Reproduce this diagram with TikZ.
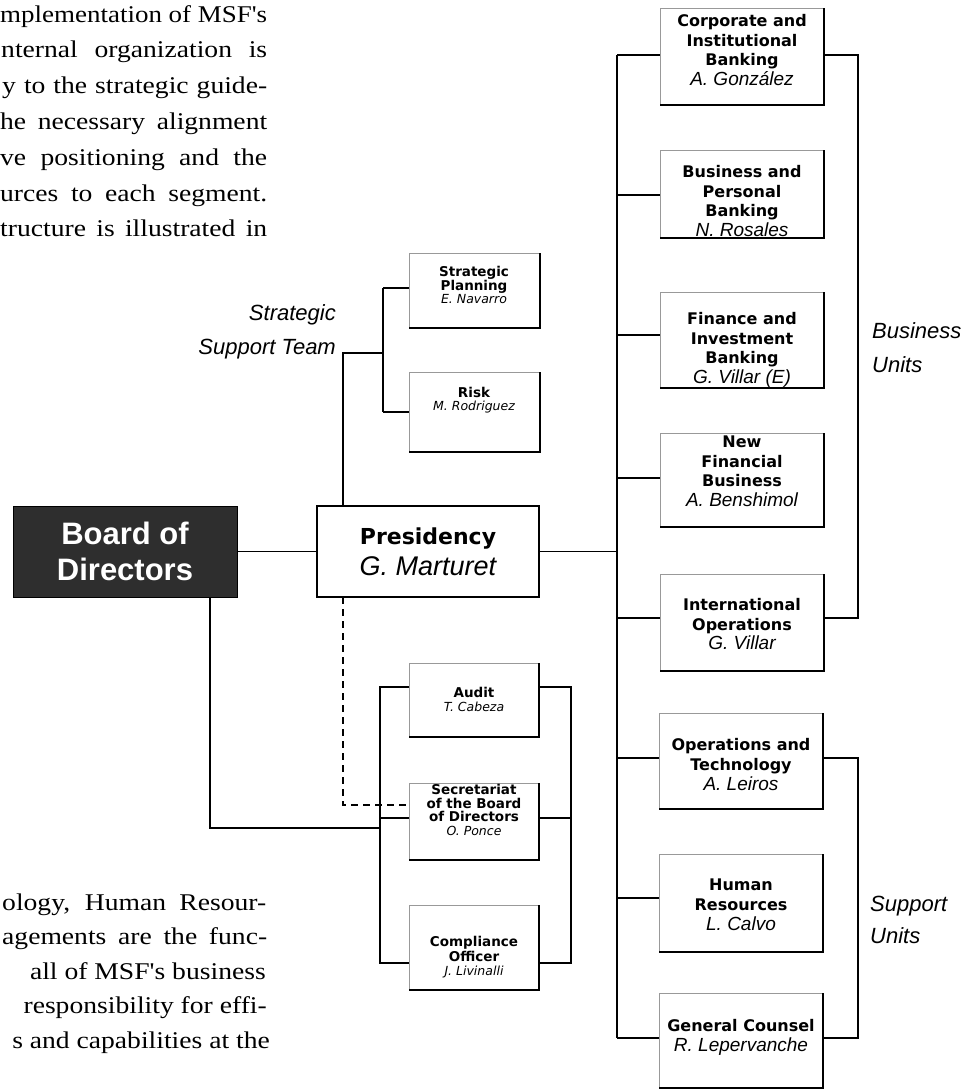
\documentclass[tikz,border=0pt]{standalone}
\usepackage{fontspec}
\usepackage{graphicx}
\usepackage{pdfrender}
\setmainfont{Liberation Serif}
\newfontfamily\bodyfont[FakeStretch=1.15]{Liberation Serif}
\newfontfamily\dv{DejaVu Sans}
\newfontfamily\lsans{Liberation Sans}
\newcommand\outl[2][0.5pt]{\textpdfrender{TextRenderingMode=FillStroke,LineWidth=#1,FillColor=white,StrokeColor=black}{#2}}
\newcommand\nmA[1]{{\lsans\mdseries\itshape\fontsize{19}{19.5}\selectfont #1}}
\newcommand\nmS[1]{\outl[0.7pt]{\lsans\mdseries\itshape\fontsize{19}{20}\selectfont #1}}
\newcommand\nms[1]{\outl[0.5pt]{\dv\mdseries\itshape\fontsize{12.5}{12}\selectfont #1}}
\newcommand\tts[1]{\outl[0.6pt]{#1}}
\newcommand\ttl[1]{\outl[0.8pt]{#1}}
\tikzset{
 conn/.style={line width=1.1pt},
 dashconn/.style={line width=1.1pt, dash pattern=on 7pt off 5pt},
 ubox/.style={draw=black!40, line width=0.5pt, fill=white, inner sep=0pt, outer sep=0pt},
 boxedge/.style={line width=1.2pt},
 txt/.style={align=center, inner sep=0pt},
 bu/.style={txt, font=\dv\bfseries\fontsize{16}{19.5}\selectfont},
 su/.style={txt, font=\dv\bfseries\fontsize{16}{20}\selectfont},
 sm/.style={txt, font=\dv\bfseries\fontsize{13.5}{13}\selectfont},
 lab/.style={inner sep=0pt, font=\lsans\itshape\fontsize{22}{26}\selectfont},
 body/.style={inner sep=0pt, anchor=base west, font=\bodyfont\fontsize{24}{24}\selectfont},
 bodyr/.style={inner sep=0pt, anchor=base east, font=\bodyfont\fontsize{24}{24}\selectfont},
}
\begin{document}
\begin{tikzpicture}[x=1pt,y=-1pt]
\useasboundingbox (0,0) rectangle (979,1090);

% ---- running text
\node[body] (t1) at (0,22) {\resizebox{267pt}{\height}{mplementation of MSF's}};
\node[body] (t2) at (1,57.8) {\makebox[266pt][s]{nternal organization is}};
\node[body] (t3) at (2,93.6) {\makebox[265pt][s]{y to the strategic guide-}};
\node[body] (t4) at (0,129.4) {\makebox[267pt][s]{he necessary alignment}};
\node[body] (t5) at (0,165.2) {\makebox[267pt][s]{ve positioning and the}};
\node[body] (t6) at (0,201) {\makebox[267pt][s]{urces to each segment.}};
\node[body] (t7) at (0,236.8) {\makebox[267pt][s]{tructure is illustrated in}};

\node[body] (b1) at (2,910) {\makebox[264pt][s]{ology, Human Resour-}};
\node[body] (b2) at (2,944.6) {\makebox[265pt][s]{agements are the func-}};
\node[bodyr] (b3) at (266,979.2) {all of MSF's business};
\node[bodyr] (b4) at (267,1013.8) {responsibility for effi-};
\node[bodyr] (b5) at (270,1048.4) {s and capabilities at the};

% ---- main boxes
\node[ubox, fill=black!82, draw=black, line width=1pt, minimum width=224pt, minimum height=91pt,
      text=white, align=center, font=\lsans\bfseries\fontsize{31}{36}\selectfont] (board) at (125,551.5) {Board of\\Directors};
\node[ubox, draw=black, line width=1.1pt, minimum width=222pt, minimum height=91pt,
      align=center, font=\fontsize{22}{31}\selectfont] (pres) at (428,551.5)
      {\outl[0.9pt]{\dv\bfseries\fontsize{22}{31}\selectfont Presidency}\\\outl[0.9pt]{\lsans\itshape\fontsize{27}{31}\selectfont G. Marturet}};

% ---- business units
\node[ubox, minimum width=164pt, minimum height=97pt] (corp) at (742,56.5) {};
\node[ubox, minimum width=164pt, minimum height=88pt] (bp) at (742,194) {};
\node[ubox, minimum width=164pt, minimum height=96pt] (fi) at (742,340) {};
\node[ubox, minimum width=164pt, minimum height=94pt] (nf) at (742,480) {};
\node[ubox, minimum width=164pt, minimum height=97pt] (io) at (742,622.5) {};
% ---- support units
\node[ubox, minimum width=164pt, minimum height=96pt] (ot) at (741,761) {};
\node[ubox, minimum width=164pt, minimum height=98pt] (hr) at (741,903) {};
\node[ubox, minimum width=164pt, minimum height=95pt] (gc) at (741,1040.5) {};
% ---- strategic support
\node[ubox, minimum width=131pt, minimum height=75pt] (sp) at (474.5,290.5) {};
\node[ubox, minimum width=131pt, minimum height=80pt] (risk) at (474.5,412) {};
% ---- board committees
\node[ubox, minimum width=130pt, minimum height=74pt] (audit) at (474,700) {};
\node[ubox, minimum width=130pt, minimum height=77pt] (sec) at (474,821.5) {};
\node[ubox, minimum width=130pt, minimum height=85pt] (comp) at (474,947.5) {};

\foreach \n in {corp,bp,fi,nf,io,ot,hr,gc,sp,risk,audit,sec,comp}
  \draw[boxedge] (\n.north east) -- (\n.south east) -- (\n.south west);

% ---- box texts
\node[bu] (corpt) at (742,50) {Corporate and\\Institutional\\Banking\\\nmA{A. González}};
\node[bu] (bpt) at (742,201) {Business and\\Personal\\Banking\\\nmA{N. Rosales}};
\node[bu] (fit) at (742,350) {Finance and\\Investment\\Banking\\\nmA{G. Villar (E)}};
\node[bu] (nft) at (742,471.5) {New\\Financial\\Business\\\nmA{A. Benshimol}};
\node[bu] (iot) at (742,624.5) {International\\Operations\\\nmA{G. Villar}};

\node[su] (ott) at (741,765) {\ttl{Operations and}\\\ttl{Technology}\\\nmS{A. Leiros}};
\node[su] (hrt) at (741,905) {\ttl{Human}\\\ttl{Resources}\\\nmS{L. Calvo}};
\node[su] (gct) at (741,1037) {\ttl{General Counsel}\\\nmS{R. Lepervanche}};

\node[sm] (spt) at (474,285) {\tts{Strategic}\\\tts{Planning}\\\nms{E. Navarro}};
\node[sm] (riskt) at (474,400) {\tts{Risk}\\\nms{M. Rodriguez}};
\node[sm, font=\dv\bfseries\fontsize{13.5}{14}\selectfont] (auditt) at (474,699) {\tts{Audit}\\\nms{T. Cabeza}};
\node[sm, font=\dv\bfseries\fontsize{13.5}{13.5}\selectfont] (sect) at (474,810) {\tts{Secretariat}\\\tts{of the Board}\\\tts{of Directors}\\\nms{O. Ponce}};
\node[sm, font=\dv\bfseries\fontsize{13.5}{14.5}\selectfont] (compt) at (474,957.5) {\tts{Compliance}\\\tts{Officer}\\\nms{J. Livinalli}};

% ---- group labels
\node[lab, anchor=base east] (sst1) at (336,320) {Strategic};
\node[lab, anchor=base east] (sst2) at (336,354) {Support Team};
\node[lab, anchor=base west] (bu1) at (872,338) {Business};
\node[lab, anchor=base west] (bu2) at (872,372) {Units};
\node[lab, anchor=base west] (su1) at (870,911) {Support};
\node[lab, anchor=base west] (su2) at (870,943) {Units};

% ---- connectors
\draw[conn] (board.east) -- (pres.west);
\coordinate (trP) at (617,551.5);
\draw[conn] (pres.east) -- (trP);
\coordinate (s1) at (617,55);
\coordinate (s2) at (617,195);
\coordinate (s3) at (617,335);
\coordinate (s4) at (617,478);
\coordinate (s5) at (617,618);
\coordinate (s6) at (617,758);
\coordinate (s7) at (617,898);
\coordinate (s8) at (617,1038);
\draw[conn] (s1) -- (s8);
\draw[conn] (s1) -- (s1 -| corp.west);
\draw[conn] (s2) -- (s2 -| bp.west);
\draw[conn] (s3) -- (s3 -| fi.west);
\draw[conn] (s4) -- (s4 -| nf.west);
\draw[conn] (s5) -- (s5 -| io.west);
\draw[conn] (s6) -- (s6 -| ot.west);
\draw[conn] (s7) -- (s7 -| hr.west);
\draw[conn] (s8) -- (s8 -| gc.west);
\coordinate (rb1) at (858,55);
\coordinate (rb2) at (858,618);
\coordinate (rb3) at (858,758);
\coordinate (rb4) at (858,1038);
\draw[conn] (rb1 -| corp.east) -- (rb1) -- (rb2) -- (rb2 -| io.east);
\draw[conn] (rb3 -| ot.east) -- (rb3) -- (rb4) -- (rb4 -| gc.east);

% strategic support
\coordinate (sv) at (343,353);
\coordinate (sb0) at (383,353);
\coordinate (sb1) at (383,288);
\coordinate (sb2) at (383,412);
\draw[conn] (sv |- pres.north) -- (sv) -- (sb0);
\draw[conn] (sb1) -- (sb2);
\draw[conn] (sb1) -- (sb1 -| sp.west);
\draw[conn] (sb2) -- (sb2 -| risk.west);

% board committees
\coordinate (al1) at (380,687);
\coordinate (alm) at (380,818);
\coordinate (al2) at (380,963);
\coordinate (ar1) at (571,687);
\coordinate (arm) at (571,818);
\coordinate (ar2) at (571,963);
\draw[conn] (al1 -| audit.west) -- (al1) -- (al2) -- (al2 -| comp.west);
\draw[conn] (alm) -- (alm -| sec.west);
\draw[conn] (ar1 -| audit.east) -- (ar1) -- (ar2) -- (ar2 -| comp.east);
\draw[conn] (arm) -- (arm -| sec.east);
\coordinate (bd) at (210,828);
\draw[conn] (bd |- board.south) -- (bd) -- (bd -| al1);
\coordinate (dd) at (343,805);
\draw[dashconn] (dd |- pres.south) -- (dd) -- (dd -| sec.west);
\end{tikzpicture}
\end{document}
